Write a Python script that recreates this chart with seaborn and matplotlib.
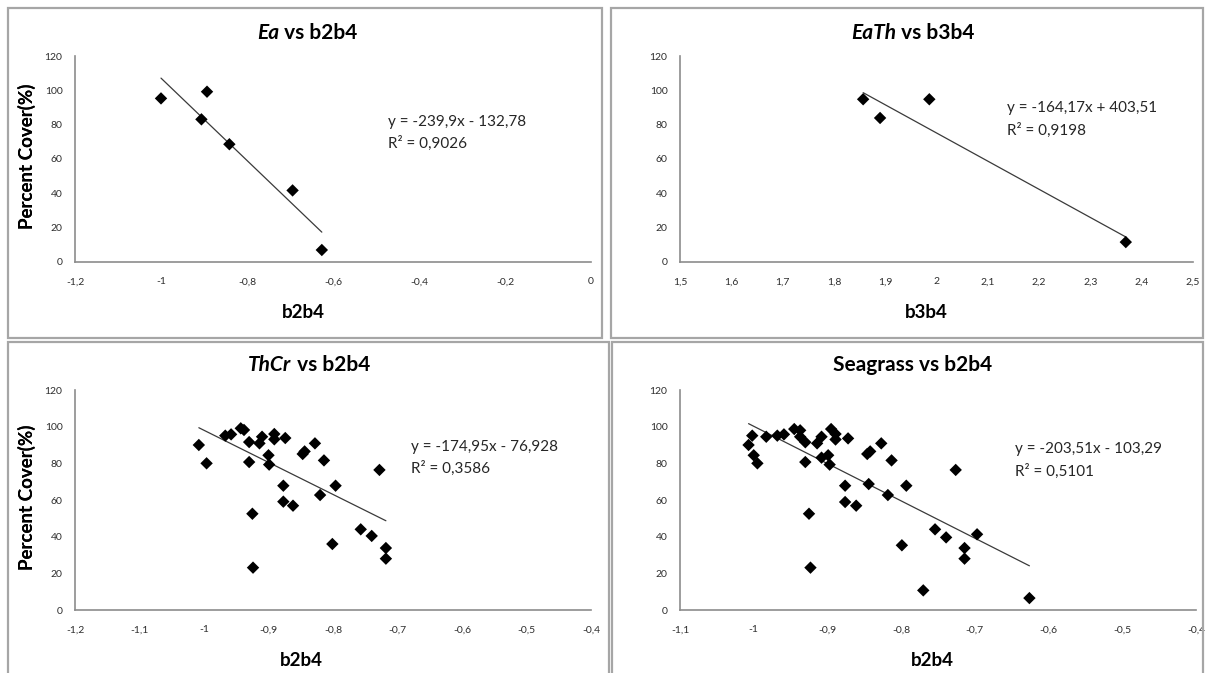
import numpy as np
import pandas as pd
import seaborn as sns
import matplotlib.pyplot as plt
from matplotlib.patches import Rectangle
from matplotlib.ticker import FuncFormatter, MultipleLocator

# Ea vs b2b4
ea_x = [-1.000, -0.893, -0.906, -0.841, -0.694, -0.626]
ea_y = [95.3, 99.2, 83.1, 68.6, 41.7, 7.0]

# EaTh vs b3b4
eath_x = [1.857, 1.890, 1.986, 2.369]
eath_y = [94.8, 83.9, 94.8, 11.6]

# ThCr vs b2b4
thcr_x = [-1.008, -0.996, -0.967, -0.958, -0.943, -0.938, -0.930, -0.930,
          -0.925, -0.924, -0.914, -0.910, -0.900, -0.899, -0.891, -0.891,
          -0.874, -0.877, -0.877, -0.862, -0.847, -0.844, -0.828, -0.820,
          -0.814, -0.801, -0.796, -0.757, -0.740, -0.728, -0.718, -0.718]
thcr_y = [90.0, 80.0, 95.1, 95.8, 99.1, 98.2, 91.6, 80.7,
          52.5, 23.1, 90.9, 94.5, 84.4, 79.3, 96.0, 93.1,
          93.8, 67.8, 59.1, 56.9, 85.1, 86.5, 90.9, 62.7,
          81.6, 36.0, 67.8, 44.0, 40.4, 76.4, 33.8, 28.0]

# Seagrass vs b2b4
sg_x = [-1.007, -1.002, -1.000, -0.995, -0.983, -0.968, -0.959, -0.945,
        -0.937, -0.937, -0.930, -0.930, -0.925, -0.923, -0.914, -0.908,
        -0.908, -0.899, -0.897, -0.895, -0.889, -0.889, -0.872, -0.876,
        -0.876, -0.861, -0.846, -0.842, -0.844, -0.827, -0.818, -0.813,
        -0.799, -0.793, -0.770, -0.754, -0.739, -0.726, -0.714, -0.714,
        -0.697, -0.626]
sg_y = [90.0, 95.1, 84.4, 80.0, 94.5, 95.1, 95.8, 98.7,
        98.0, 94.5, 91.5, 80.7, 52.5, 23.1, 90.9, 94.5,
        83.1, 84.4, 79.3, 98.7, 96.0, 93.0, 93.6, 67.8,
        58.9, 56.9, 85.1, 86.5, 68.7, 90.9, 62.7, 81.6,
        35.3, 67.8, 10.7, 44.0, 39.6, 76.4, 33.8, 28.0,
        41.3, 6.5]

# 趋势线 (Excel 给出的方程)
trend_slope = [-239.9, -164.17, -174.95, -203.51]
trend_icpt = [-132.78, 403.51, -76.928, -103.29]
eq_text = ["y = -239,9x - 132,78", "y = -164,17x + 403,51",
           "y = -174,95x - 76,928", "y = -203,51x - 103,29"]
r2_text = ["R² = 0,9026", "R² = 0,9198", "R² = 0,3586", "R² = 0,5101"]

title_ital = ["Ea", "EaTh", "ThCr", ""]
title_rest = [" vs b2b4", " vs b3b4", " vs b2b4", "Seagrass vs b2b4"]
x_labels = ["b2b4", "b3b4", "b2b4", "b2b4"]
x_lims = [(-1.2, 0), (1.5, 2.5), (-1.2, -0.4), (-1.1, -0.4)]
x_steps = [0.2, 0.1, 0.1, 0.1]
y_ticks = [0, 20, 40, 60, 80, 100, 120]

data = [(ea_x, ea_y), (eath_x, eath_y), (thcr_x, thcr_y), (sg_x, sg_y)]

sns.set_theme(style="white")
plt.rcParams["font.family"] = ["Lato", "DejaVu Sans"]

W, H = 1206, 673
f = plt.figure(figsize=(W / 100, H / 100), dpi=100)
f.patch.set_facecolor("white")

def fx(x):
    return x / W

def fy(y):
    return 1 - y / H

# 面板边框 / 坐标轴 / 标题 / 方程 位置（像素）
boxes = [(8, 8, 602, 338), (611, 8, 1203, 338), (8, 342, 609, 676), (612, 342, 1203, 676)]
axes_px = [(75, 56, 591, 262), (680, 56, 1193, 262), (75, 390, 591, 610), (680, 390, 1196, 610)]
title_px = [(307, 33), (913, 33), (309, 365), (913, 365)]
eq_px = [(388, 122, 143), (1007, 108, 130), (411, 447, 468), (1015, 449, 471)]
xlab_px = [(303, 312), (926, 312), (301, 661), (932, 660)]
ylab_x = 27

for x0, y0, x1, y1 in boxes:
    f.add_artist(Rectangle((fx(x0), fy(y1)), fx(x1 - x0), (y1 - y0) / H,
                           transform=f.transFigure, fill=False,
                           edgecolor="#a6a6a6", lw=1.6))

fmt = FuncFormatter(lambda v, p: f"{round(v, 2):g}".replace(".", ","))

renderer = f.canvas.get_renderer()
for i, (xs, ys) in enumerate(data):
    l, t, r, b = axes_px[i]
    ax = f.add_axes([fx(l), fy(b), fx(r - l), (b - t) / H])
    df = pd.DataFrame({"x": xs, "y": ys})
    sns.scatterplot(data=df, x="x", y="y", ax=ax, marker="D", s=40,
                    color="black", edgecolor="none", linewidth=0, zorder=3)
    xr = np.array([min(xs), max(xs)])
    trend = pd.DataFrame({"x": xr, "y": trend_slope[i] * xr + trend_icpt[i]})
    sns.lineplot(data=trend, x="x", y="y", ax=ax, color="#3a3a3a", lw=0.9, zorder=2)

    ax.set_xlim(*x_lims[i])
    ax.set_ylim(0, 120)
    ax.xaxis.set_major_locator(MultipleLocator(x_steps[i]))
    ax.set_yticks(y_ticks)
    ax.xaxis.set_major_formatter(fmt)
    ax.tick_params(axis="both", length=0, labelsize=7.5, colors="#2e2e2e")
    ax.tick_params(axis="x", pad=11)
    ax.tick_params(axis="y", pad=9)
    sns.despine(ax=ax)
    for s in ["left", "bottom"]:
        ax.spines[s].set_color("#8c8c8c")
        ax.spines[s].set_linewidth(1.2)
    ax.set_xlabel("")
    ax.set_ylabel("")
    ax.patch.set_alpha(0)

    # 坐标轴标题
    f.text(fx(ylab_x), fy((t + b) / 2 - 3), "Percent Cover(%)", rotation=90,
           ha="center", va="center", fontsize=13.5, fontweight="bold", color="black")
    f.text(fx(xlab_px[i][0]), fy(xlab_px[i][1]), x_labels[i], ha="center",
           va="center", fontsize=13.5, fontweight="bold", color="black")

    # 方程和R²
    ex, ey1, ey2 = eq_px[i]
    f.text(fx(ex), fy(ey1), eq_text[i], ha="left", va="center", fontsize=11, color="#262626")
    f.text(fx(ex), fy(ey2), r2_text[i], ha="left", va="center", fontsize=11, color="#262626")

    # 标题：斜体部分 + 普通部分
    cx, cy = title_px[i]
    parts = []
    if title_ital[i]:
        parts.append(f.text(0, fy(cy), title_ital[i], ha="left", va="center", fontsize=15,
                            fontweight="bold", fontstyle="italic", color="black"))
    parts.append(f.text(0, fy(cy), title_rest[i], ha="left", va="center", fontsize=15,
                        fontweight="bold", color="black"))
    widths = [p.get_window_extent(renderer).width for p in parts]
    x = cx - sum(widths) / 2
    for p, w in zip(parts, widths):
        p.set_x(fx(x))
        x += w

f.savefig("out.png", dpi=100)
